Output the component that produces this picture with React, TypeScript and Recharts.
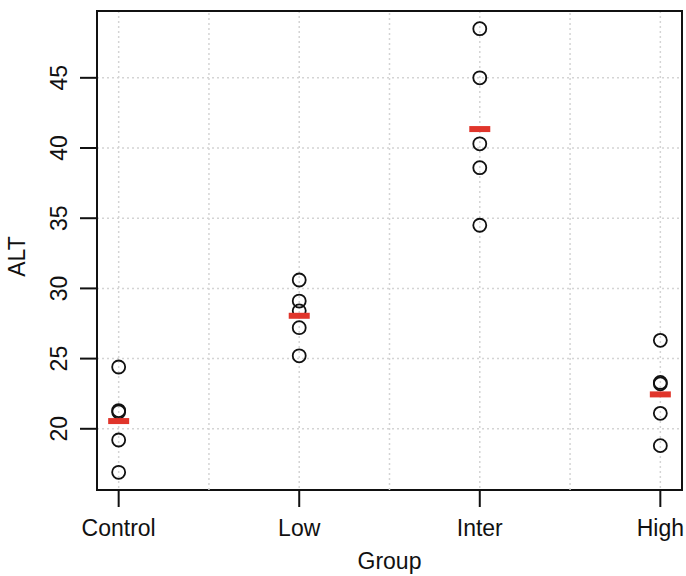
import {
  ComposedChart,
  Scatter,
  XAxis,
  YAxis,
  CartesianGrid,
  ReferenceLine,
  ReferenceArea,
} from "recharts";

const GROUPS = ["Control", "Low", "Inter", "High"];
const CONTROL = [24.4, 21.3, 21.2, 19.2, 16.9];
const LOW = [30.6, 29.1, 28.4, 27.2, 25.2];
const INTER = [48.5, 45.0, 40.3, 38.6, 34.5];
const HIGH = [26.3, 23.3, 23.2, 21.1, 18.8];
const MEANS = [20.55, 28.05, 41.35, 22.45];

const X_DOMAIN = [0.88, 4.12];
const Y_DOMAIN = [15.64, 49.76];
const Y_TICKS = [20, 25, 30, 35, 40, 45];
const X_TICKS = [1, 2, 3, 4];
const X_MID_GRID = [1.5, 2.5, 3.5];

const FONT = "'Liberation Sans', Arial, Helvetica, sans-serif";
const FONT_SIZE = 23;
const GRID = { stroke: "#d4d4d4", strokeDasharray: "2 3", strokeWidth: 1.5 };

const points = [CONTROL, LOW, INTER, HIGH].flatMap((vals, i) =>
  vals.map((y) => ({ x: i + 1, y }))
);
const meanPoints = MEANS.map((y, i) => ({ x: i + 1, y }));

function OpenCircle(props: any) {
  const { cx, cy } = props;
  return <circle cx={cx} cy={cy} r={6.5} fill="none" stroke="#111" strokeWidth={1.8} />;
}

function MeanBar(props: any) {
  const { cx, cy } = props;
  return <rect x={cx - 10.5} y={cy - 3} width={21} height={6} fill="#e0352b" />;
}

function YTick(props: any) {
  const { x, y, payload } = props;
  return (
    <text
      x={x}
      y={y}
      transform={`rotate(-90 ${x} ${y})`}
      textAnchor="middle"
      fontFamily={FONT}
      fontSize={FONT_SIZE}
      fill="#111"
    >
      {payload.value}
    </text>
  );
}

export default function App() {
  return (
    <div style={{ position: "absolute", left: 0, top: 0, background: "#fff" }}>
      <ComposedChart
        width={686}
        height={576}
        margin={{ top: 11, right: 4, bottom: 0, left: 0 }}
      >
        <CartesianGrid {...GRID} />
        {X_MID_GRID.map((v) => (
          <ReferenceLine key={v} x={v} {...GRID} />
        ))}
        <XAxis
          type="number"
          dataKey="x"
          domain={X_DOMAIN}
          ticks={X_TICKS}
          tickFormatter={(v) => GROUPS[v - 1]}
          height={86}
          axisLine={false}
          stroke="#111"
          tickSize={17}
          tickMargin={13}
          tickLine={{ stroke: "#111", strokeWidth: 2 }}
          tick={{ fill: "#111", fontSize: FONT_SIZE, fontFamily: FONT }}
          interval={0}
          allowDataOverflow
          label={(p: any) => {
            const vb = p.viewBox;
            return (
              <text
                x={vb.x + vb.width / 2}
                y={vb.y + 79}
                textAnchor="middle"
                fontFamily={FONT}
                fontSize={FONT_SIZE}
                fill="#111"
              >
                Group
              </text>
            );
          }}
        />
        <YAxis
          type="number"
          dataKey="y"
          domain={Y_DOMAIN}
          ticks={Y_TICKS}
          width={97}
          axisLine={false}
          stroke="#111"
          tickSize={17}
          tickMargin={13}
          tickLine={{ stroke: "#111", strokeWidth: 2 }}
          tick={<YTick />}
          interval={0}
          allowDataOverflow
          label={(p: any) => {
            const vb = p.viewBox;
            const x = 25;
            const y = vb.y + vb.height / 2 + 6;
            return (
              <text
                x={x}
                y={y}
                transform={`rotate(-90 ${x} ${y})`}
                textAnchor="middle"
                fontFamily={FONT}
                fontSize={FONT_SIZE}
                fill="#111"
              >
                ALT
              </text>
            );
          }}
        />
        <ReferenceArea
          x1={X_DOMAIN[0]}
          x2={X_DOMAIN[1]}
          y1={Y_DOMAIN[0]}
          y2={Y_DOMAIN[1]}
          fill="none"
          fillOpacity={0}
          stroke="#111"
          strokeWidth={2}
          strokeOpacity={1}
          ifOverflow="visible"
        />
        <Scatter data={points} shape={<OpenCircle />} isAnimationActive={false} />
        <Scatter data={meanPoints} shape={<MeanBar />} isAnimationActive={false} />
      </ComposedChart>
    </div>
  );
}
